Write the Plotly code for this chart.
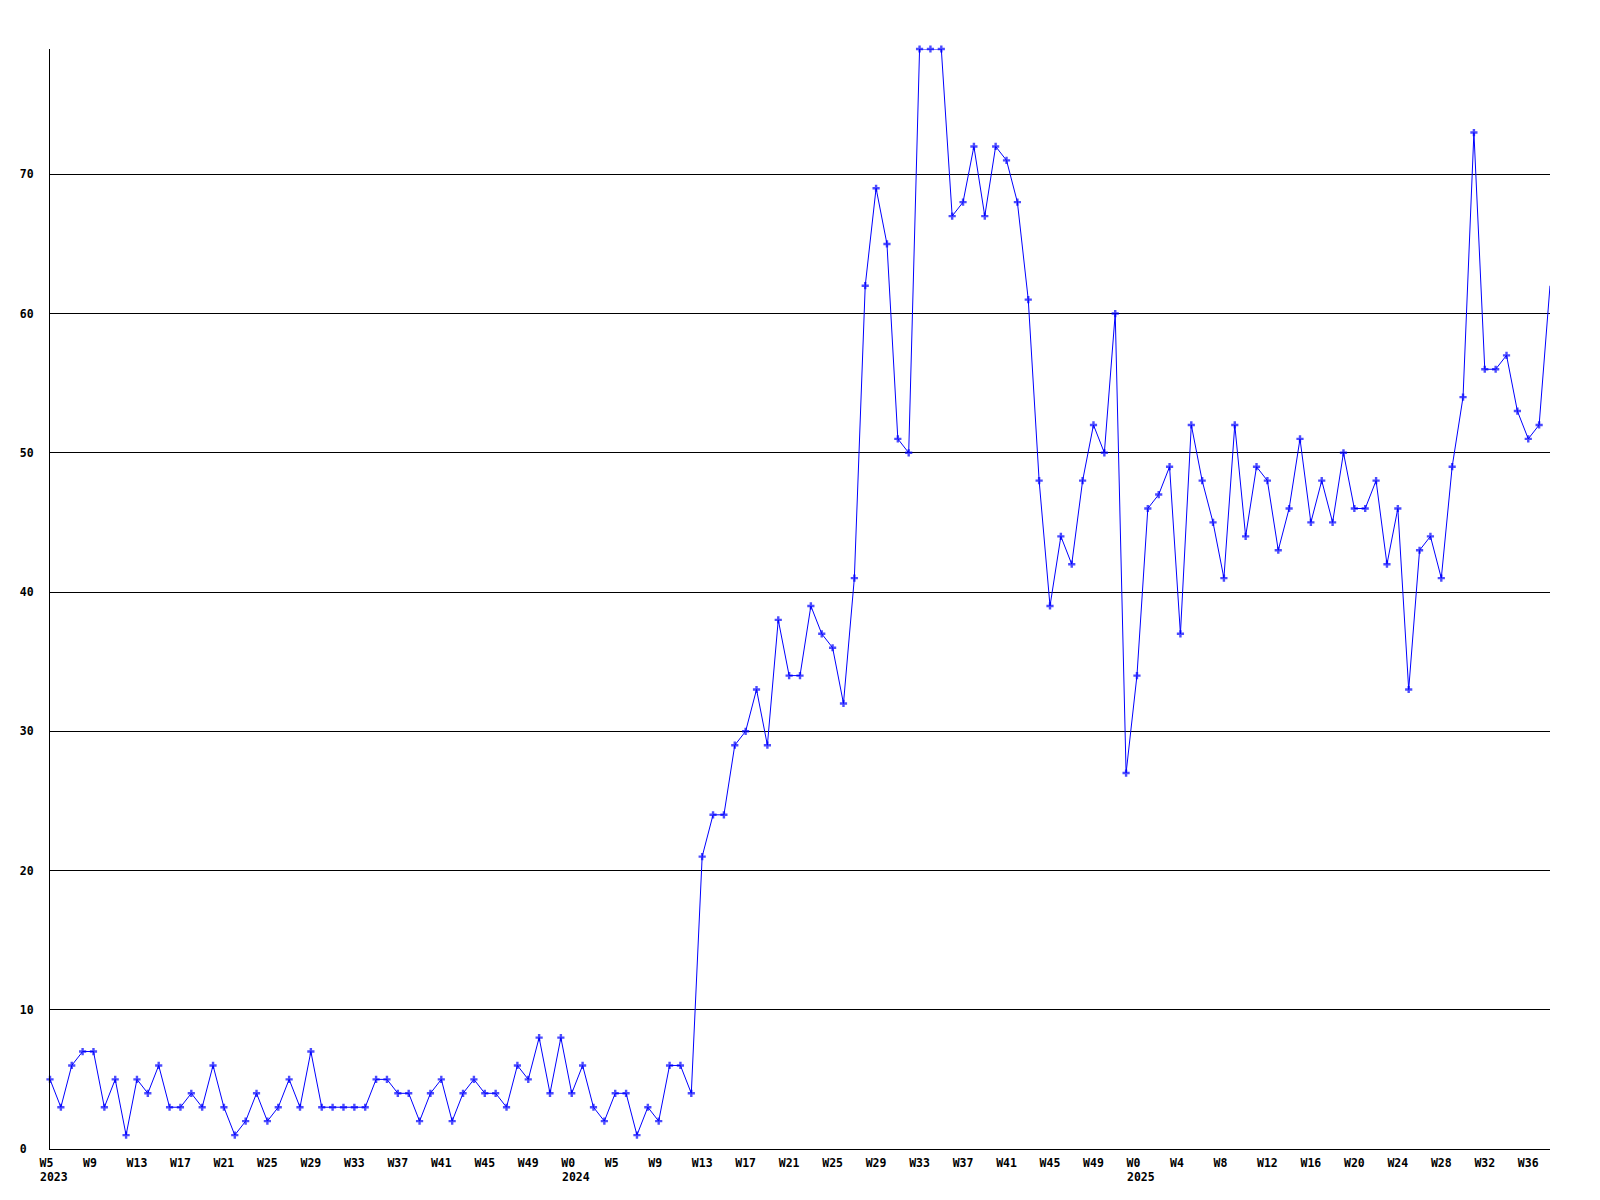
import plotly.graph_objects as go

# Weekly counts, starting at 2023 W5 (one value per week)
values = [
    5, 3, 6, 7, 7, 3, 5, 1, 5, 4, 6, 3, 3, 4, 3, 6, 3, 1, 2, 4, 2, 3, 5, 3, 7,
    3, 3, 3, 3, 3, 5, 5, 4, 4, 2, 4, 5, 2, 4, 5, 4, 4, 3, 6, 5, 8, 4, 8, 4, 6, 3, 2,
    4, 4, 1, 3, 2, 6, 6, 4, 21,
    24, 24, 29, 30, 33, 29, 38, 34, 34, 39, 37, 36, 32, 41,
    62, 69, 65, 51, 50, 79, 79, 79, 67, 68, 72, 67, 72, 71, 68, 61, 48,
    39, 44, 42, 48, 52, 50, 60, 27, 34, 46, 47, 49, 37,
    52, 48, 45, 41, 52, 44, 49, 48, 43, 46, 51, 45, 48, 45, 50, 46, 46, 48,
    42, 46, 33, 43, 44, 41, 49, 54, 73, 56, 56, 57, 53, 51, 52, 62,
]

# Tick labels every 4th week
tick_labels = [
    "W5", "W9", "W13", "W17", "W21", "W25", "W29", "W33", "W37", "W41", "W45", "W49",
    "W0", "W5", "W9", "W13", "W17", "W21", "W25", "W29", "W33", "W37", "W41", "W45", "W49",
    "W0", "W4", "W8", "W12", "W16", "W20", "W24", "W28", "W32", "W36",
]
tick_step = 4

# Year labels and the index of the week they sit under
year_labels = ["2023", "2024", "2025"]
year_positions = [0, 48, 100]

y_ticks = [0, 10, 20, 30, 40, 50, 60, 70]

x = list(range(len(values)))
tick_vals = [i * tick_step for i in range(len(tick_labels))]

font_family = "DejaVu Sans Mono"
font = dict(family=font_family, size=11.5, color="black", weight="bold")

marker_sizes = [6] * (len(values) - 1) + [0]

# pad labels so that (centred) labels start at the same offset left of their tick
tick_text = [t.ljust(3, "\u00a0") for t in tick_labels]

fig = go.Figure()
fig.add_trace(go.Scatter(
    x=x, y=values, mode="lines+markers",
    line=dict(color="#0000FF", width=1),
    marker=dict(symbol="cross", size=marker_sizes, color="#0000FF", line=dict(width=0)),
    cliponaxis=False,
    showlegend=False,
    hoverinfo="x+y",
))

for label, pos in zip(year_labels, year_positions):
    fig.add_annotation(
        x=pos, xref="x", y=-0.0255, yref="paper",
        text=label, showarrow=False, xanchor="left", yanchor="middle",
        xshift=-12, font=font,
    )

# page body adds an 8px offset; compensate in the margins
fig.update_layout(
    width=1600, height=1200,
    margin=dict(l=42, r=58, t=41, b=59),
    paper_bgcolor="white", plot_bgcolor="white",
    font=font,
    xaxis=dict(
        range=[0, len(values) - 1],
        tickmode="array", tickvals=tick_vals, ticktext=tick_text,
        showgrid=False, zeroline=False,
        showline=True, linecolor="black", linewidth=1,
        ticks="", tickfont=font, ticklabelstandoff=3,
        automargin=False,
    ),
    yaxis=dict(
        range=[0, 79],
        tickmode="array", tickvals=y_ticks,
        ticktext=[("%d" % v).ljust(2, "\u00a0") for v in y_ticks],
        showgrid=True, gridcolor="black", gridwidth=1,
        zeroline=False,
        showline=True, linecolor="black", linewidth=1,
        ticks="", tickfont=font, ticklabelstandoff=13,
        automargin=False,
    ),
)

fig.write_html("out.html")
